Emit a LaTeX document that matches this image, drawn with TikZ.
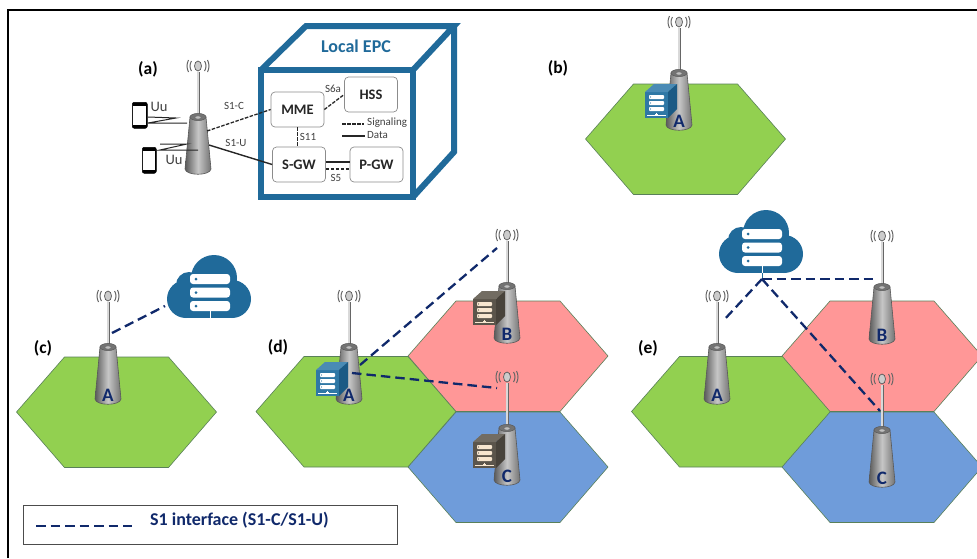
\documentclass[tikz,border=0pt]{standalone}
\usepackage{fontspec}
\setmainfont{Carlito}
\usetikzlibrary{positioning}
\definecolor{epcblue}{HTML}{206A9A}
\definecolor{srvfront}{HTML}{2F78A5}
\definecolor{srvtop}{HTML}{4A8BB5}
\definecolor{srvside}{HTML}{1B5A85}
\definecolor{brnfront}{HTML}{5B554B}
\definecolor{brntop}{HTML}{726C62}
\definecolor{brnside}{HTML}{48433B}
\definecolor{brnbar}{HTML}{F7E6CF}
\definecolor{navyline}{HTML}{10296B}
\definecolor{cellgreen}{HTML}{92D050}
\definecolor{cellred}{HTML}{FF9797}
\definecolor{cellblue}{HTML}{6F9CDA}
\tikzset{%
  panel/.style={font=\fontsize{17.5}{20}\selectfont\bfseries, inner sep=0pt},
  epcbox/.style={draw=black!45, rounded corners=4pt, fill=white, font=\fontsize{14.5}{16}\selectfont\bfseries, text=black!85, inner sep=0pt, minimum width=53pt, minimum height=35pt, line width=.7pt},
  tiny/.style={font=\fontsize{11}{12}\selectfont, text=black!75, inner sep=0pt},
  uulabel/.style={font=\fontsize{14.5}{16}\selectfont, text=black!75, inner sep=0pt},
  letter/.style={font=\fontsize{19}{22}\selectfont\bfseries, text=navyline, inner sep=0pt},
  sig/.style={draw=black!85, line width=1.3pt, dash pattern=on 3.5pt off 1.5pt},
  dat/.style={draw=black!85, line width=1.4pt},
  sone/.style={draw=navyline, line width=2.3pt, dash pattern=on 9.5pt off 5pt},
  hexcell/.style={draw=black!50!green!30!gray, line width=.6pt},
}
% cell: name, centre x, centre y, colour
\newcommand{\cell}[4]{%
  \coordinate (#1) at (#2,#3);
  \draw [hexcell, fill=#4] (#1) ++(-100,0) -- ++(48,-55) -- ++(104,0) -- ++(48,55) -- ++(-48,55.5) -- ++(-104,0) -- cycle;}
% tower: name, x, y of the foot, letter
\newcommand{\bts}[4]{%
  \coordinate (#1) at (#2,#3);
  \begin{scope}[shift={(#1)}]
    \draw [black!60, line width=3pt] (0,-100) -- (0,-50);
    \draw [black!15, line width=1.3pt] (0,-100) -- (0,-50);
    \draw [black!65, line width=.6pt, left color=black!65, right color=black!55, middle color=black!22]
      (-8,-55) -- (-13,-3) .. controls (-12,4) and (12,4) .. (13,-3) -- (8,-55) -- cycle;
    \draw [black!65, line width=.5pt, fill=black!55] (0,-55) ellipse (8 and 3.6);
    \draw [black!60, line width=.4pt, fill=black!25] (0,-54.5) ellipse (3.2 and 1.6);
    \draw [black!65, line width=.7pt, fill=black!20] (0,-106) ellipse (3.5 and 5);
    \draw [black!60, line width=1pt] (-6.5,-111) .. controls (-8.5,-108) and (-8.5,-104) .. (-6.5,-101);
    \draw [black!60, line width=1pt] (-9.5,-112) .. controls (-11.5,-108) and (-11.5,-104) .. (-9.5,-100);
    \draw [black!60, line width=1pt] (6.5,-111) .. controls (8.5,-108) and (8.5,-104) .. (6.5,-101);
    \draw [black!60, line width=1pt] (9.5,-112) .. controls (11.5,-108) and (11.5,-104) .. (9.5,-100);
    \node [letter] (#1-letter) at (0,-7) {#4};
  \end{scope}}
% server: x, y of the front face, then front, top, side, bar colours
\newcommand{\server}[6]{%
  \begin{scope}[shift={(#1,#2)}]
    \fill [#3] (0,0) rectangle (23,26);
    \fill [#4] (0,0) -- (9,-8) -- (32,-8) -- (23,0) -- cycle;
    \fill [#5] (23,0) -- (32,-8) -- (32,17) -- (23,26) -- cycle;
    \fill [#6, rounded corners=.8pt] (4,3) rectangle (19,7);
    \fill [#6, rounded corners=.8pt] (4,9) rectangle (19,13);
    \fill [#6, rounded corners=.8pt] (4,15) rectangle (19,19);
    \fill [#3] (5.5,5) circle (.7) (5.5,11) circle (.7) (5.5,17) circle (.7);
    \draw [#6, line width=.7pt] (2,23) -- (21,23) (11.5,20.5) -- (11.5,23);
    \fill [#6] (10,22) rectangle (13,24);
  \end{scope}}
% cloud: x, y of the foot of its body
\newcommand{\cloud}[2]{%
  \begin{scope}[shift={(#1,#2)}]
    \fill [epcblue] (-24,-19) circle (19) (-21,-33) circle (13) (4,-40) circle (23) (22,-19) circle (19);
    \fill [epcblue] (-24,-22) rectangle (22,0);
    \fill [white, rounded corners=3pt] (-20,-44) rectangle (20,-34);
    \fill [white, rounded corners=3pt] (-20,-30.5) rectangle (20,-20.5);
    \fill [white, rounded corners=3pt] (-20,-17) rectangle (20,-7);
    \fill [epcblue] (-14,-39) circle (1.5) (-14,-25.5) circle (1.5) (-14,-12) circle (1.5);
    \draw [white, line width=1pt] (0,-7) -- (0,0);
  \end{scope}}
% phone: name, left x, top y, width, height
\newcommand{\phone}[5]{%
  \node [draw=black, line width=.5pt, fill=black, rounded corners=2pt, minimum width=#4pt, minimum height=#5pt, inner sep=0pt, anchor=north west] (#1) at (#2,#3) {};
  \fill [white] ([shift={(1.3,3.5)}]#1.north west) rectangle ([shift={(-1.3,-3.5)}]#1.south east);}

\begin{document}
\begin{tikzpicture}[x=1pt, y=-1pt]
  \useasboundingbox (0,0) rectangle (977,558);
  \fill [white] (0,0) rectangle (977,558);

  % frame
  \coordinate (fr1) at (8,558);
  \coordinate (fr2) at (8,10);
  \coordinate (fr3) at (977,10);
  \draw [black, line width=1.2pt] (fr1) -- (fr2) -- (fr3);

  % (a)
  \node [panel] (la) at (148,69) {(a)};
  \phone{ph1}{132}{102}{15}{26}
  \phone{ph2}{142}{147}{14}{26}
  \bts{ta}{198}{172}{}
  \coordinate (z1) at (148,117);
  \coordinate (z2) at (176,118);
  \coordinate (z3) at (148,123);
  \coordinate (z4) at (187,123);
  \draw [black!85, line width=1pt] (z1) -- (z2) -- (z3) -- (z4);
  \coordinate (y1) at (160,144);
  \coordinate (y2) at (187,144);
  \coordinate (y3) at (160,150);
  \coordinate (y4) at (198,150);
  \draw [black!85, line width=1pt] (y1) -- (y2) -- (y3) -- (y4);
  \node [uulabel] (uu1) at (159,107) {Uu};
  \node [uulabel] (uu2) at (174,160) {Uu};

  \draw [epcblue, line width=6pt, line join=miter] (261,70) rectangle (413,197);
  \draw [epcblue, line width=6pt, line join=miter] (261,70) -- (306,26) -- (454,26) -- (413,70);
  \draw [epcblue, line width=6pt, line join=miter] (454,26) -- (454,152) -- (413,197);
  \node [font=\fontsize{18}{20}\selectfont\bfseries, text=epcblue, inner sep=0pt] (epc) at (356,46) {Local EPC};

  \node [epcbox] (mme) at (297.5,109.5) {MME};
  \node [epcbox] (hss) at (371,94.5) {HSS};
  \node [epcbox] (sgw) at (299,164.5) {S-GW};
  \node [epcbox] (pgw) at (376.5,164.5) {P-GW};

  \coordinate (ta-c) at (207,131);
  \coordinate (ta-u) at (209,145);
  \path [sig] (ta-c) -- (mme.west);
  \path [dat] (ta-u) -- (sgw.west);
  \path [sig] (mme.east) -- (hss.west);
  \path [sig] (mme.south) -- (mme.south |- sgw.north);
  \path [sig, line width=1.6pt] ([yshift=-4.5pt]sgw.east) -- ([yshift=-4.5pt]pgw.west);
  \path [dat, line width=2pt] ([yshift=2.5pt]sgw.east) -- ([yshift=2.5pt]pgw.west);

  \node [tiny] (s1c) at (234,106) {S1-C};
  \node [tiny] (s1u) at (236,143) {S1-U};
  \node [tiny] (s6a) at (333,89) {S6a};
  \node [tiny] (s11) at (308,137) {S11};
  \node [tiny] (s5) at (336,178) {S5};
  \node [tiny, anchor=west] (tsig) at (367,122.5) {Signaling};
  \node [tiny, anchor=west] (tdat) at (367,135.5) {Data};
  \coordinate (ksig) at (342,124);
  \coordinate (kdat) at (342,136);
  \path [sig] (ksig) -- ([xshift=-3pt]ksig -| tsig.west);
  \path [dat] (kdat) -- ([xshift=-2pt]kdat -| tdat.west);

  % (b)
  \node [panel] (lb) at (558,68) {(b)};
  \cell{cb}{685.5}{139}{cellgreen}
  \bts{tb}{679}{128}{A}
  \server{645}{92}{srvfront}{srvtop}{srvside}{white}

  % (c)
  \node [panel] (lc) at (43,348) {(c)};
  \cell{cc}{116.5}{412}{cellgreen}
  \bts{tc}{108}{402}{A}
  \cloud{210}{318}
  \coordinate (c1) at (112,333);
  \coordinate (c2) at (165,306);
  \path [sone] (c1) -- (c2);

  % (d)
  \node [panel] (ld) at (278,347) {(d)};
  \cell{dg}{356}{411.5}{cellgreen}
  \cell{dr}{508}{356}{cellred}
  \cell{db}{508}{467}{cellblue}
  \bts{da}{349}{402}{A}
  \bts{dtb}{507}{341}{B}
  \bts{dtc}{507}{483}{C}
  \server{316}{370}{srvfront}{srvtop}{srvside}{white}
  \server{473}{299}{brnfront}{brntop}{brnside}{brnbar}
  \server{473}{442}{brnfront}{brntop}{brnside}{brnbar}
  \coordinate (d1) at (360,365);
  \coordinate (d2) at (497,248);
  \coordinate (d3) at (352,373);
  \coordinate (d4) at (497,388);
  \path [sone] (d1) -- (d2);
  \path [sone] (d3) -- (d4);

  % (e)
  \node [panel] (le) at (648,348) {(e)};
  \cell{eg}{731.5}{411.5}{cellgreen}
  \cell{er}{882}{356}{cellred}
  \cell{eb}{882}{467}{cellblue}
  \bts{ea}{717}{402}{A}
  \bts{etb}{882}{342}{B}
  \bts{etc}{882}{485}{C}
  \cloud{762}{273}
  \coordinate (hub) at (762,279);
  \coordinate (e1) at (723,321);
  \coordinate (e2) at (875,279);
  \coordinate (e3) at (880,411);
  \draw [epcblue, line width=1pt] (762,273) -- (hub);
  \path [sone] (hub) -- (e1);
  \path [sone] (hub) -- (e2);
  \path [sone] (hub) -- (e3);

  % key
  \node [draw=black!70, line width=.9pt, minimum width=374pt, minimum height=39pt, inner sep=0pt, anchor=north west] (key) at (23,505) {};
  \coordinate (k1) at (36,526);
  \coordinate (k2) at (132,526);
  \path [sone] (k1) -- (k2);
  \node [font=\fontsize{18}{20}\selectfont\bfseries, text=navyline, inner sep=0pt, anchor=west] (keytext) at (150,520) {S1 interface (S1-C/S1-U)};
\end{tikzpicture}
\end{document}
